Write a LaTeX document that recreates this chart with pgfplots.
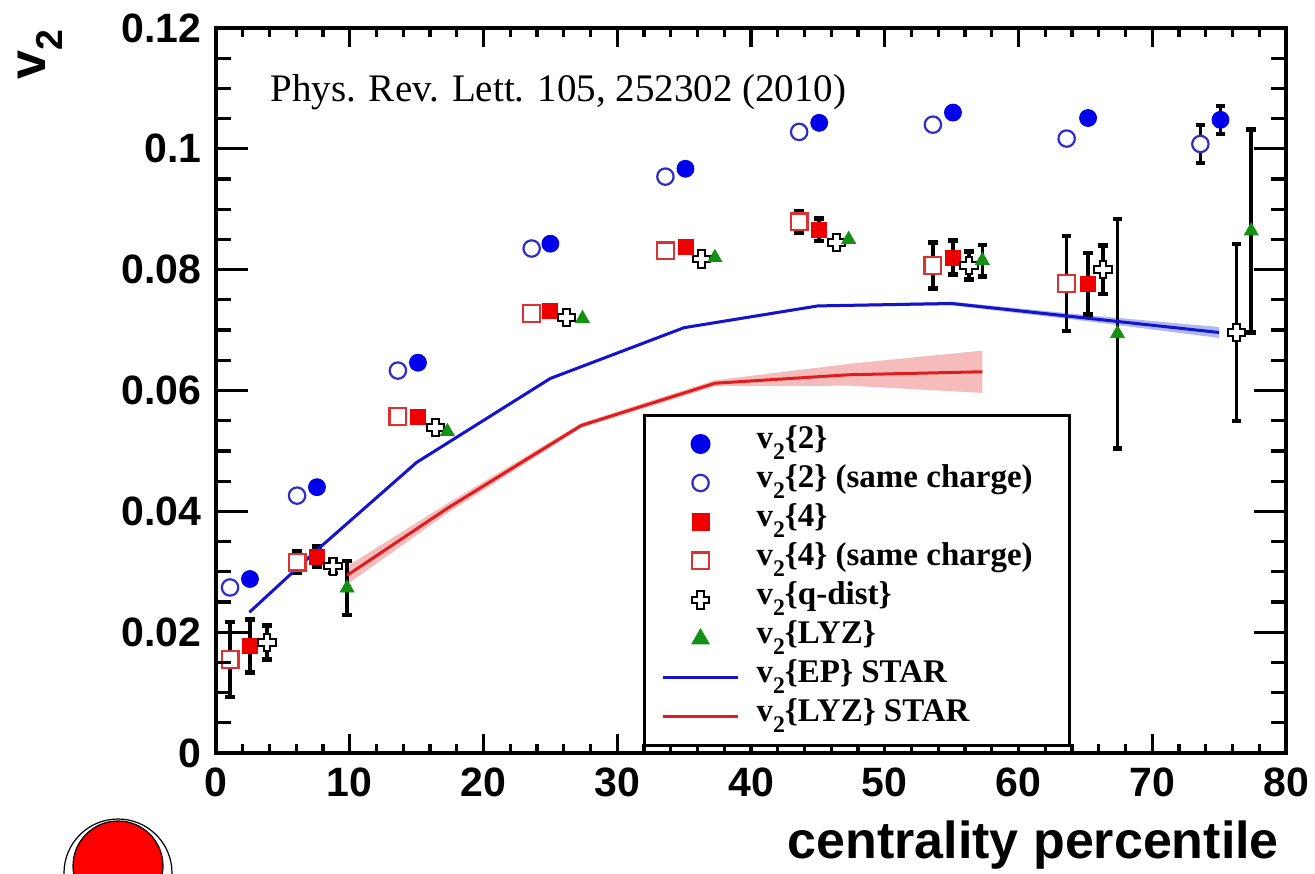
\documentclass[border=0pt]{standalone}
\usepackage{fontspec}
\setmainfont{Liberation Serif}
\newfontfamily\helv{Liberation Sans}
\newfontfamily\tms{Liberation Serif}
\usepackage{graphicx}
\usepackage{pgfplots}
\usepackage{pgfplotstable}
\pgfplotsset{compat=1.18}

\definecolor{ptblue}{RGB}{0,0,235}
\definecolor{ptblueo}{RGB}{45,45,205}
\definecolor{ptred}{RGB}{238,0,0}
\definecolor{ptredo}{RGB}{222,50,50}
\definecolor{ptgreen}{RGB}{20,145,20}
\definecolor{epblue}{RGB}{20,20,205}
\definecolor{lyzred}{RGB}{222,30,30}
\definecolor{lyzband}{RGB}{246,188,188}
\definecolor{epband}{RGB}{175,185,240}

% v with a lowered subscript 2
\newcommand\vt{v\raisebox{-0.32em}{\scalebox{0.72}{2}}}

% thick open cross used for v2{q-dist}
\pgfdeclareplotmark{fatplus}{%
  \pgfpathmoveto{\pgfqpoint{-0.36\pgfplotmarksize}{\pgfplotmarksize}}%
  \pgfpathlineto{\pgfqpoint{0.36\pgfplotmarksize}{\pgfplotmarksize}}%
  \pgfpathlineto{\pgfqpoint{0.36\pgfplotmarksize}{0.36\pgfplotmarksize}}%
  \pgfpathlineto{\pgfqpoint{\pgfplotmarksize}{0.36\pgfplotmarksize}}%
  \pgfpathlineto{\pgfqpoint{\pgfplotmarksize}{-0.36\pgfplotmarksize}}%
  \pgfpathlineto{\pgfqpoint{0.36\pgfplotmarksize}{-0.36\pgfplotmarksize}}%
  \pgfpathlineto{\pgfqpoint{0.36\pgfplotmarksize}{-\pgfplotmarksize}}%
  \pgfpathlineto{\pgfqpoint{-0.36\pgfplotmarksize}{-\pgfplotmarksize}}%
  \pgfpathlineto{\pgfqpoint{-0.36\pgfplotmarksize}{-0.36\pgfplotmarksize}}%
  \pgfpathlineto{\pgfqpoint{-\pgfplotmarksize}{-0.36\pgfplotmarksize}}%
  \pgfpathlineto{\pgfqpoint{-\pgfplotmarksize}{0.36\pgfplotmarksize}}%
  \pgfpathlineto{\pgfqpoint{-0.36\pgfplotmarksize}{0.36\pgfplotmarksize}}%
  \pgfpathclose
  \pgfusepathqfillstroke
}

% ---- data ----
\pgfplotstableread{
x     y
2.54  0.0288
7.55  0.0440
15.1  0.0646
25.0  0.0843
35.1  0.0967
45.1  0.1043
55.1  0.1060
65.2  0.1051
75.1  0.1048
}\vTwo
\pgfplotstableread{
x     y
1.05  0.0274
6.06  0.0426
13.6  0.0633
23.6  0.0835
33.6  0.0954
43.6  0.1028
53.6  0.1040
63.6  0.1017
73.6  0.1008
}\vTwoSC
\pgfplotstableread{
x     y
2.54  0.0177
7.55  0.0325
15.1  0.0557
25.0  0.0731
35.1  0.0838
45.1  0.0866
55.1  0.0820
65.2  0.0777
}\vFour
\pgfplotstableread{
x     y
1.05  0.0155
6.06  0.0316
13.6  0.0557
23.6  0.0727
33.6  0.0831
43.6  0.0879
53.6  0.0807
63.6  0.0777
}\vFourSC
\pgfplotstableread{
x     y
3.8   0.0183
8.75  0.0309
16.4  0.0539
26.2  0.0721
36.3  0.0818
46.4  0.0845
56.3  0.0807
66.3  0.0800
76.3  0.0696
}\vQ
\pgfplotstableread{
x     y
9.8   0.0273
17.3  0.0532
27.4  0.0719
37.3  0.0820
47.3  0.0850
57.3  0.0815
67.4  0.0694
77.4  0.0864
}\vLYZ
% statistical errors (all series)
\pgfplotstableread{
x     y       e
75.1  0.1048  0.0023
73.6  0.1008  0.0031
2.54  0.0177  0.0044
7.55  0.0325  0.0017
45.1  0.0866  0.0019
55.1  0.0820  0.0028
65.2  0.0777  0.0051
1.05  0.0155  0.0062
6.06  0.0316  0.0018
43.6  0.0879  0.0018
53.6  0.0807  0.0038
63.6  0.0777  0.0079
3.8   0.0183  0.0028
8.75  0.0309  0.0011
56.3  0.0807  0.0023
66.3  0.0800  0.0040
76.3  0.0696  0.0146
9.8   0.0273  0.0045
57.3  0.0815  0.0026
67.4  0.0694  0.0190
77.4  0.0864  0.0168
}\errs

\pgfplotsset{
  frame/.style={
    scale only axis, width=535pt, height=362.5pt,
    xmin=0, xmax=80, ymin=0, ymax=0.12,
    tick align=inside, tick pos=both,
    axis line style={line width=2pt, line cap=rect},
    tick style={black, line width=1.6pt},
    ticklabel style={font=\helv\bfseries\fontsize{20.5pt}{20.5pt}\selectfont},
    xticklabel style={inner sep=0pt, yshift=-7pt},
    yticklabel style={inner sep=0pt, xshift=-7pt},
  }
}

\begin{document}
\begin{tikzpicture}
% x ticks, data and legend
\begin{axis}[frame,
  xtick={0,10,20,30,40,50,60,70,80},
  xticklabels={0,10,20,30,40,50,60,70,80},
  minor x tick num=4,
  ytick=\empty,
  major tick length=9.5pt, minor tick length=4.75pt,
  legend image code/.code={\draw[mark repeat=2,mark phase=2,#1]
    plot coordinates {(0pt,0pt) (18.75pt,0pt) (37.5pt,0pt)};},
  legend cell align=left,
  legend style={at={(rel axis cs:0.3991,0.4676)}, anchor=north west,
    draw=black, line width=1.5pt, fill=white,
    inner xsep=8.5pt, inner ysep=4.5pt,
    font=\tms\bfseries\fontsize{16.5pt}{16.5pt}\selectfont,
    row sep=0pt, column sep=8.5pt,
    nodes={inner sep=0pt, text height=12pt, text depth=7.5pt}},
]
\coordinate (A) at (rel axis cs:0,0);
\coordinate (B) at (rel axis cs:1,1);

% uncertainty bands of the STAR curves
\addplot[forget plot, draw=none, fill=lyzband] coordinates {
  (9.8,0.0309) (17.3,0.0413) (27.3,0.0546) (37.3,0.0617) (47.3,0.0644) (57.3,0.0666)
  (57.3,0.0596) (47.3,0.0608) (37.3,0.0607) (27.3,0.0538) (17.3,0.0397) (9.8,0.0279)
} -- cycle;
\addplot[forget plot, draw=none, fill=epband] coordinates {
  (2.5,0.0235) (7.5,0.0337) (15,0.0483) (25,0.0622) (35,0.0706) (45,0.0742) (55,0.0747) (65,0.0725) (75,0.0705)
  (75,0.0687) (65,0.0715) (55,0.0741) (45,0.0738) (35,0.0702) (25,0.0618) (15,0.0479) (7.5,0.0333) (2.5,0.0231)
} -- cycle;

% error bars
\addplot[forget plot, only marks, mark=none,
  error bars/.cd, y dir=both, y explicit,
  error bar style={black, line width=1.8pt},
  error mark options={black, rotate=90, mark size=2.4pt, line width=2.2pt}]
  table[x=x, y=y, y error=e] {\errs};

\addplot[only marks, mark=*, mark size=4.25pt, ptblue] table {\vTwo};
\addlegendentry{\vt\{2\}}
\addplot[only marks, mark=*, mark size=4.1pt,
  mark options={draw=ptblueo, fill=white, line width=1.1pt}] table {\vTwoSC};
\addlegendentry{\vt\{2\} (same charge)\hspace*{10pt}}
\addplot[only marks, mark=square*, mark size=3.75pt, ptred] table {\vFour};
\addlegendentry{\vt\{4\}}
\addplot[only marks, mark=square*, mark size=4.2pt,
  mark options={draw=ptredo, fill=white, line width=1.1pt}] table {\vFourSC};
\addlegendentry{\vt\{4\} (same charge)}
\addplot[only marks, mark=fatplus, mark size=4.4pt,
  mark options={draw=black, fill=white, line width=1pt}] table {\vQ};
\addlegendentry{\vt\{q-dist\}}
\addplot[only marks, mark=triangle*, mark size=4pt, ptgreen] table {\vLYZ};
\addlegendentry{\vt\{LYZ\}}

% STAR reference curves
\addplot[epblue, line width=1.5pt, mark=none] coordinates {
  (2.5,0.0233) (7.5,0.0335) (15,0.0481) (25,0.0620) (35,0.0704) (45,0.0740) (55,0.0744) (65,0.0720) (75,0.0696)};
\addlegendentry{\vt\{EP\} STAR}
\addplot[lyzred, line width=1.5pt, mark=none] coordinates {
  (9.8,0.0294) (17.3,0.0405) (27.3,0.0542) (37.3,0.0612) (47.3,0.0626) (57.3,0.0631)};
\addlegendentry{\vt\{LYZ\} STAR}
\end{axis}

% y ticks
\begin{axis}[frame,
  xtick=\empty,
  ytick={0,0.02,0.04,0.06,0.08,0.1,0.12},
  yticklabels={0,0.02,0.04,0.06,0.08,0.1,0.12},
  minor y tick num=3,
  major tick length=16pt, minor tick length=7.5pt,
]
\end{axis}

% axis titles and annotation
\node[anchor=base east, font=\helv\bfseries\fontsize{26pt}{26pt}\selectfont]
  at ([yshift=-52.5pt]A -| B) {centrality percentile};
\node[rotate=90, anchor=east, font=\helv\bfseries\fontsize{26pt}{26pt}\selectfont]
  at ([xshift=-88pt,yshift=2.5pt]A |- B) {\vt};
\node[anchor=base west, inner sep=0pt, font=\tms\fontsize{19.5pt}{19.5pt}\selectfont]
  at ([xshift=27pt,yshift=-37pt]A |- B) {Phys. Rev. Lett. 105, 252302 (2010)};

% round badge in the lower left corner
\draw[line width=0.6pt, fill=white] ([xshift=-49pt,yshift=-60pt]A) circle (27pt);
\draw[line width=0.6pt, fill=red] ([xshift=-49pt,yshift=-56.5pt]A) circle (22.5pt);

\pgfresetboundingbox
\path[use as bounding box] ([xshift=-108pt,yshift=-60pt]A) rectangle ([xshift=14.5pt,yshift=14pt]B);
\end{tikzpicture}
\end{document}
